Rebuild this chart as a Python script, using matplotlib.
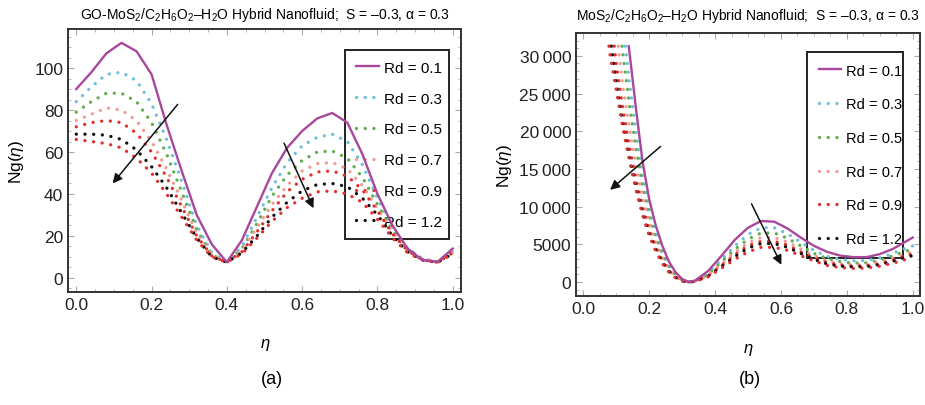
import matplotlib
matplotlib.use("Agg")
import matplotlib.pyplot as plt
import numpy as np
from matplotlib.ticker import MultipleLocator, FuncFormatter

plt.rcParams['font.family'] = ['Liberation Sans', 'DejaVu Sans']
plt.rcParams['mathtext.fontset'] = 'custom'
plt.rcParams['mathtext.rm'] = 'Liberation Sans'
plt.rcParams['mathtext.it'] = 'Liberation Sans:italic'

################################################################################
# data
################################################################################

labels = ["Rd = 0.1", "Rd = 0.3", "Rd = 0.5", "Rd = 0.7", "Rd = 0.9", "Rd = 1.2", None]
colors = ["#a9479d", "#6fbfdc", "#5fae4a", "#f29a96", "#e0302c", "#111111", "#e0302c"]

# panel (a)
eta_a = [0.00, 0.04, 0.08, 0.12, 0.16, 0.20, 0.24, 0.28, 0.32, 0.36, 0.40, 0.44, 0.48,
         0.52, 0.56, 0.60, 0.64, 0.68, 0.72, 0.76, 0.80, 0.84, 0.88, 0.92, 0.96, 1.00]
ng_a_01 = [90, 98, 107, 112, 108, 97, 73, 51, 30, 16, 7.5, 18, 34,
           50, 62, 70, 76, 78.6, 74, 59, 40, 25, 14, 8.5, 7.7, 14]
ng_a_03 = [84, 91, 97, 98, 94, 83, 66, 46, 25, 12, 7.5, 15, 29,
           43, 55, 63, 67, 68.5, 65, 54, 38, 24, 14, 9, 7.5, 13]
ng_a_05 = [79, 84, 88, 88, 84, 74, 59, 41, 23, 11, 7.5, 14, 26,
           39, 49, 56, 60, 60.5, 57, 48, 35, 23, 14, 9, 7.5, 12.5]
ng_a_07 = [75, 78, 81, 80, 75, 65, 52, 37, 21, 11, 7.5, 13, 24,
           35, 44, 51, 54.5, 55, 52, 44, 33, 22, 13, 9, 7.5, 12]
ng_a_09 = [72, 74, 75, 74, 69, 60, 48, 34, 20, 10.5, 7.5, 12.5, 22,
           32, 41, 47, 50.5, 51, 48.5, 42, 32, 21, 13, 8.5, 7.5, 12]
ng_a_12 = [68.5, 68.5, 68, 66, 61, 53, 43, 31, 19, 10, 7.5, 12, 20,
           29, 36, 41.5, 44.5, 45, 43.5, 38, 30, 20, 12.5, 8.5, 7.5, 11.5]
ng_a_xx = [66, 65, 64, 62, 57, 50, 40, 29, 18, 10, 7.5, 11.5, 19,
           27, 33.5, 38, 41, 41.5, 40, 36, 28, 19, 12, 8.5, 7.5, 11.5]

# panel (b): each curve starts at the top of the plot range
top_b = 31300
start_b = [0.138, 0.128, 0.118, 0.106, 0.094, 0.085, 0.078]
eta_b = [0.08, 0.10, 0.12, 0.14, 0.16, 0.18, 0.20, 0.22, 0.24, 0.26, 0.28, 0.30, 0.32,
         0.34, 0.38, 0.42, 0.46, 0.50, 0.54, 0.58, 0.62, 0.66, 0.70, 0.74, 0.78,
         0.82, 0.86, 0.90, 0.94, 0.98, 1.00]
nan = np.nan
ng_b_01 = [nan, nan, nan, 30600, 23000, 16000, 11000, 7500, 4800, 2700, 1300, 400, 0,
           200, 1500, 3500, 5600, 7200, 8100, 8000, 7100, 5900, 4800, 4000, 3500,
           3300, 3300, 3700, 4400, 5400, 5900]
ng_b_03 = [nan, nan, nan, 26500, 20000, 14200, 9800, 6600, 4100, 2300, 1000, 300, 0,
           150, 1200, 3000, 4800, 6300, 7200, 7200, 6400, 5300, 4200, 3400, 3000,
           2800, 2850, 3200, 3800, 4500, 4800]
ng_b_05 = [nan, nan, 30400, 23500, 17800, 12800, 8800, 5900, 3700, 2000, 900, 250, 0,
           130, 1050, 2700, 4300, 5700, 6500, 6500, 5800, 4800, 3800, 3100, 2700,
           2500, 2550, 2900, 3500, 4100, 4400]
ng_b_07 = [nan, nan, 26000, 20500, 15500, 11300, 7900, 5200, 3200, 1700, 750, 200, 0,
           110, 950, 2400, 3900, 5200, 5900, 5900, 5300, 4400, 3500, 2800, 2400,
           2300, 2350, 2650, 3200, 3800, 4000]
ng_b_09 = [nan, 29000, 23000, 18000, 13600, 9900, 6900, 4600, 2800, 1500, 650, 150, 0,
           100, 850, 2200, 3600, 4800, 5400, 5400, 4900, 4000, 3200, 2600, 2200,
           2100, 2150, 2400, 2900, 3500, 3700]
ng_b_12 = [nan, 26500, 21000, 16500, 12500, 9100, 6400, 4300, 2600, 1400, 600, 150, 0,
           90, 800, 2050, 3350, 4500, 5100, 5100, 4600, 3800, 3000, 2400, 2100,
           2000, 2050, 2300, 2750, 3300, 3500]
ng_b_xx = [30500, 25500, 20500, 16200, 12300, 8900, 6200, 4100, 2450, 1300, 550, 120, 0,
           80, 700, 1850, 3000, 4000, 4600, 4600, 4200, 3500, 2800, 2200, 1900,
           1800, 1850, 2100, 2500, 3000, 3200]

arrows_a = [((0.274, 83.7), (0.092, 44)), ((0.549, 65.4), (0.633, 32))]
arrows_b = [((0.241, 18230), (0.075, 11990)), ((0.507, 10710), (0.605, 1950))]

################################################################################
# plotting
################################################################################

def styleAxes(ax):
    for s in ax.spines.values():
        s.set_linewidth(1.4)
        s.set_color("#333333")
    ax.tick_params(which='both', direction='in', top=True, right=True,
                   colors="#aaaaaa", labelcolor="#222222", labelsize=12.5)
    ax.tick_params(which='major', length=4)
    ax.tick_params(which='minor', length=2)
    ax.xaxis.set_major_locator(MultipleLocator(0.2))
    ax.xaxis.set_minor_locator(MultipleLocator(0.05))
    ax.xaxis.set_major_formatter(FuncFormatter(lambda v, p: "%.1f" % v))
    ax.set_xlim(-0.022, 1.022)

def drawCurves(ax, x, series, starts=None):
    for i, y in enumerate(series):
        xx = np.array(x, dtype=float)
        yy = np.array(y, dtype=float)
        if starts is not None:
            keep = ~np.isnan(yy)
            xx = np.concatenate([[starts[i]], xx[keep]])
            yy = np.concatenate([[top_b], yy[keep]])
        if i == 0:
            ax.plot(xx, yy, color=colors[i], lw=1.7, label=labels[i], zorder=5,
                    solid_joinstyle='round')
        else:
            ax.plot(xx, yy, color=colors[i], lw=2.4, linestyle=(0, (0.01, 2.6)),
                    dash_capstyle='round', label=labels[i], zorder=4)

def drawLegend(ax, bbox, size, spacing, pad):
    leg = ax.legend(loc='upper left', bbox_to_anchor=bbox, mode='expand',
                    fontsize=size, frameon=True, fancybox=False, framealpha=1,
                    edgecolor='#222222', labelspacing=spacing, handlelength=1.5,
                    handletextpad=0.35, borderpad=pad, borderaxespad=0)
    leg.get_frame().set_linewidth(1.4)
    leg.get_frame().set_facecolor('none')
    leg.set_zorder(3)

def drawArrows(ax, arrows):
    for (x0, y0), (x1, y1) in arrows:
        ax.annotate("", xy=(x1, y1), xytext=(x0, y0),
                    arrowprops=dict(arrowstyle="-|>", color="#111111", lw=1.1,
                                    mutation_scale=14), zorder=6)

fig = plt.figure(figsize=(9.25, 4.06), dpi=100)

# (a)
ax1 = fig.add_axes([0.0735, 0.2783, 0.4249, 0.6478])
drawCurves(ax1, eta_a, [ng_a_01, ng_a_03, ng_a_05, ng_a_07, ng_a_09, ng_a_12, ng_a_xx])
styleAxes(ax1)
ax1.set_ylim(-6.7, 118.6)
ax1.yaxis.set_major_locator(MultipleLocator(20))
ax1.yaxis.set_minor_locator(MultipleLocator(5))
ax1.set_ylabel(r"Ng($\eta$)", fontsize=12.5, labelpad=6)
ax1.set_title("GO-MoS$_2$/C$_2$H$_6$O$_2$–H$_2$O Hybrid Nanofluid;  S = –0.3, α = 0.3",
              fontsize=10, pad=8)
drawLegend(ax1, (0.705, 0.22, 0.264, 0.70), 11, 1.1, 0.7)
drawArrows(ax1, arrows_a)

# (b)
ax2 = fig.add_axes([0.6227, 0.2685, 0.3719, 0.6478])
drawCurves(ax2, eta_b, [ng_b_01, ng_b_03, ng_b_05, ng_b_07, ng_b_09, ng_b_12, ng_b_xx],
           starts=start_b)
styleAxes(ax2)
ax2.set_ylim(-1858, 33050)
ax2.yaxis.set_major_locator(MultipleLocator(5000))
ax2.yaxis.set_minor_locator(MultipleLocator(1000))
ax2.yaxis.set_major_formatter(FuncFormatter(
    lambda v, p: ("%d" % v) if v < 10000 else ("%d\u2009%03d" % (v // 1000, v % 1000))))
ax2.set_ylabel(r"Ng($\eta$)", fontsize=12.5, labelpad=4)
ax2.set_title("MoS$_2$/C$_2$H$_6$O$_2$–H$_2$O Hybrid Nanofluid;  S = –0.3, α = 0.3",
              fontsize=10, pad=10)
drawLegend(ax2, (0.672, 0.137, 0.278, 0.791), 10.5, 1.35, 0.8)
drawArrows(ax2, arrows_b)

# x labels and captions
fig.text(265 / 925, 1 - 345 / 406, r"$\eta$", fontsize=12, ha='center', va='center')
fig.text(748 / 925, 1 - 350 / 406, r"$\eta$", fontsize=12, ha='center', va='center')
fig.text(272 / 925, 1 - 380 / 406, "(a)", fontsize=13, ha='center', va='center')
fig.text(750 / 925, 1 - 380 / 406, "(b)", fontsize=13, ha='center', va='center')

fig.savefig("out.png", dpi=100)
